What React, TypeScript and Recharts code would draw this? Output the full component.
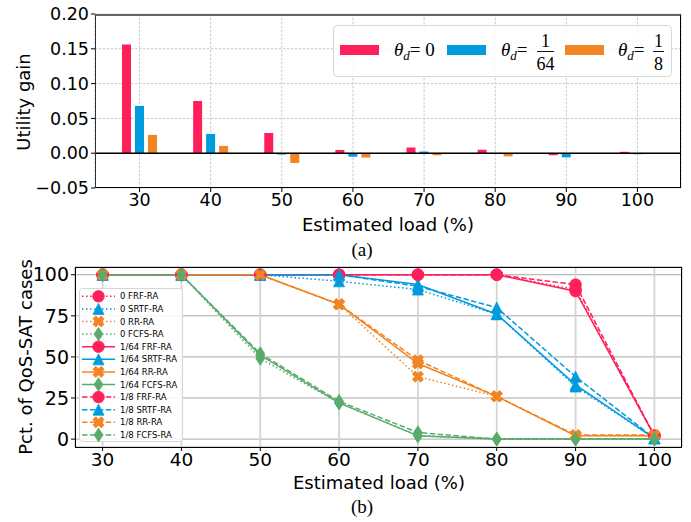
import React from 'react';
import { BarChart, Bar, XAxis, YAxis, CartesianGrid, ReferenceLine, LineChart, Line } from 'recharts';

// ---------- data ----------
const loads = [30, 40, 50, 60, 70, 80, 90, 100];
const gainTickValues = [-0.05, 0, 0.05, 0.1, 0.15, 0.2];
const pctTickValues = [0, 25, 50, 75, 100];

const gainTheta0 = [0.156, 0.075, 0.029, 0.0047, 0.0082, 0.005, -0.003, 0.002];
const gainTheta64 = [0.068, 0.0277, -0.002, -0.005, 0.0024, 0.0, -0.006, -0.0015];
const gainTheta8 = [0.0263, 0.0105, -0.014, -0.0063, -0.003, -0.0046, 0.0, 0.0];

const frf0 = [100, 100, 100, 100, 100, 100, 91, 2];
const srtf0 = [100, 100, 100, 96, 91, 76, 32, 0.5];
const rr0 = [100, 100, 100, 82, 38, 26, 2, 2];
const fcfs0 = [100, 100, 49, 22, 2, 0, 0, 0];
const frf64 = [100, 100, 100, 100, 100, 100, 90, 2];
const srtf64 = [100, 100, 100, 100, 94, 76, 33, 0.5];
const rr64 = [100, 100, 100, 82, 46, 26, 2, 2];
const fcfs64 = [100, 100, 51, 22, 2, 0, 0, 0];
const frf8 = [100, 100, 100, 100, 100, 100, 94, 2];
const srtf8 = [100, 100, 100, 100, 93, 80, 38, 0.5];
const rr8 = [100, 100, 100, 82, 48, 26, 2.5, 2.5];
const fcfs8 = [100, 100, 52, 23, 4, 0, 0, 0];

const PINK = '#FF1F5B';
const BLUE = '#009ADE';
const ORANGE = '#F28522';
const GREEN = '#58AB6A';

const barData = loads.map((l, i) => ({
  load: String(l),
  g0: gainTheta0[i],
  g64: gainTheta64[i],
  g8: gainTheta8[i],
}));

const lineData = loads.map((l, i) => ({
  load: l,
  frf0: frf0[i], srtf0: srtf0[i], rr0: rr0[i], fcfs0: fcfs0[i],
  frf64: frf64[i], srtf64: srtf64[i], rr64: rr64[i], fcfs64: fcfs64[i],
  frf8: frf8[i], srtf8: srtf8[i], rr8: rr8[i], fcfs8: fcfs8[i],
}));

type Shape = 'circle' | 'tri' | 'x' | 'diamond';

const DOTTED = '1.5 2.5';
const DASHED = '5.5 2.4';

const lineSeries: { key: string; label: string; color: string; shape: Shape; dash?: string }[] = [
  { key: 'frf0', label: '0 FRF-RA', color: PINK, shape: 'circle', dash: DOTTED },
  { key: 'srtf0', label: '0 SRTF-RA', color: BLUE, shape: 'tri', dash: DOTTED },
  { key: 'rr0', label: '0 RR-RA', color: ORANGE, shape: 'x', dash: DOTTED },
  { key: 'fcfs0', label: '0 FCFS-RA', color: GREEN, shape: 'diamond', dash: DOTTED },
  { key: 'frf64', label: '1/64 FRF-RA', color: PINK, shape: 'circle' },
  { key: 'srtf64', label: '1/64 SRTF-RA', color: BLUE, shape: 'tri' },
  { key: 'rr64', label: '1/64 RR-RA', color: ORANGE, shape: 'x' },
  { key: 'fcfs64', label: '1/64 FCFS-RA', color: GREEN, shape: 'diamond' },
  { key: 'frf8', label: '1/8 FRF-RA', color: PINK, shape: 'circle', dash: DASHED },
  { key: 'srtf8', label: '1/8 SRTF-RA', color: BLUE, shape: 'tri', dash: DASHED },
  { key: 'rr8', label: '1/8 RR-RA', color: ORANGE, shape: 'x', dash: DASHED },
  { key: 'fcfs8', label: '1/8 FCFS-RA', color: GREEN, shape: 'diamond', dash: DASHED },
];

// ---------- markers ----------
function Marker({ shape, color, cx, cy }: { shape: Shape; color: string; cx: number; cy: number }) {
  if (shape === 'circle') return <circle cx={cx} cy={cy} r={5.8} fill={color} stroke={color} strokeWidth={0.8} />;
  if (shape === 'tri') {
    const s = 5.5;
    return <polygon points={`${cx},${cy - s} ${cx - s},${cy + s} ${cx + s},${cy + s}`} fill={color} stroke={color} strokeWidth={0.8} />;
  }
  if (shape === 'diamond') {
    return <polygon points={`${cx},${cy - 6.8} ${cx + 4.4},${cy} ${cx},${cy + 6.8} ${cx - 4.4},${cy}`} fill={color} stroke={color} strokeWidth={0.8} />;
  }
  // filled X
  const L = 5.6; const w = 2.9;
  const pts: [number, number][] = [
    [0, -w], [L - w, -L], [L, -L + w], [w, 0], [L, L - w], [L - w, L],
    [0, w], [-L + w, L], [-L, L - w], [-w, 0], [-L, -L + w], [-L + w, -L],
  ];
  return <polygon points={pts.map(([x, y]) => `${cx + x},${cy + y}`).join(' ')} fill={color} stroke={color} strokeWidth={0.8} strokeLinejoin="round" />;
}

const makeDot = (shape: Shape, color: string) => (p: any) => {
  const { cx, cy, index } = p;
  if (cx == null || cy == null) return <g key={`e${index}`} />;
  return <Marker key={`m${index}`} shape={shape} color={color} cx={cx} cy={cy} />;
};

const SANS = 'DejaVu Sans';
const SERIF = 'Liberation Serif';

const fmtGain = (v: number) => (v < 0 ? '\u2212' + Math.abs(v).toFixed(2) : v.toFixed(2));

export default function App() {
  return (
    <div style={{ position: 'absolute', left: 0, top: 0, width: 691, height: 522, background: '#fff', overflow: 'hidden' }}>
      {/* top chart */}
      <div style={{ position: 'absolute', left: 0, top: 0 }}>
        <BarChart width={691} height={260} data={barData} margin={{ top: 14, right: 10, bottom: 42, left: 0 }} barSize={9} barGap={4}>
          <CartesianGrid stroke="#c8c8c8" strokeDasharray="2.5 1.5" />
          <XAxis dataKey="load" padding={{ left: 9, right: 8 }} height={30} axisLine={false}
            tick={{ fontFamily: SANS, fontSize: 17.5, fill: '#000' }} tickSize={4} tickLine={{ stroke: '#000' }} />
          <YAxis domain={[-0.05, 0.2]} ticks={gainTickValues} width={95} axisLine={false} tickFormatter={fmtGain}
            tick={{ fontFamily: SANS, fontSize: 17.5, fill: '#000' }} tickSize={4} tickLine={{ stroke: '#000' }} />
          <ReferenceLine y={0} stroke="#000" strokeWidth={1.5} />
          <Bar dataKey="g0" fill={PINK} isAnimationActive={false} />
          <Bar dataKey="g64" fill={BLUE} isAnimationActive={false} />
          <Bar dataKey="g8" fill={ORANGE} isAnimationActive={false} />
        </BarChart>
      </div>
      {/* frame of top chart */}
      <div style={{ position: 'absolute', left: 95, top: 14, width: 586, height: 174, boxSizing: 'border-box',
        borderTop: '2px solid #666', borderRight: '1px solid #000', borderLeft: '1px solid #333', borderBottom: '1px solid #000', pointerEvents: 'none' }} />

      {/* bottom chart */}
      <div style={{ position: 'absolute', left: 0, top: 252 }}>
        <LineChart width={691} height={270} data={lineData} margin={{ top: 15, right: 9, bottom: 45, left: 0 }}>
          <CartesianGrid vertical={false} stroke="#a8a8a8" strokeWidth={1} />
          <CartesianGrid horizontal={false} stroke="#d4d4d4" strokeWidth={1.8} />
          <XAxis dataKey="load" type="number" domain={[26.5, 103.5]} ticks={loads} allowDataOverflow height={30} axisLine={false}
            tick={{ fontFamily: SANS, fontSize: 18.5, fill: '#000' }} tickSize={4} tickLine={{ stroke: '#000' }} />
          <YAxis domain={[-4.8, 104.7]} ticks={pctTickValues} allowDataOverflow width={75} axisLine={false}
            tick={{ fontFamily: SANS, fontSize: 19, fill: '#000' }} tickSize={4} tickLine={{ stroke: '#000' }} />
          {lineSeries.map((s) => (
            <Line key={s.key} type="linear" dataKey={s.key} stroke={s.color} strokeWidth={1.5}
              strokeDasharray={s.dash} dot={makeDot(s.shape, s.color)} activeDot={false} isAnimationActive={false} />
          ))}
        </LineChart>
      </div>
      <div style={{ position: 'absolute', left: 75, top: 267, width: 607, height: 180.5, boxSizing: 'border-box',
        border: '1.2px solid #000', pointerEvents: 'none' }} />

      {/* overlay texts and legends */}
      <svg width={691} height={522} style={{ position: 'absolute', left: 0, top: 0, pointerEvents: 'none' }}>
        {/* axis titles */}
        <text x={23} y={102} transform="rotate(-90 23 102)" textAnchor="middle" dominantBaseline="central" fontFamily={SANS} fontSize={18}>Utility gain</text>
        <text x={388} y={224} textAnchor="middle" dominantBaseline="central" fontFamily={SANS} fontSize={18}>Estimated load (%)</text>
        <text x={362} y={249} textAnchor="middle" dominantBaseline="central" fontFamily={SERIF} fontSize={19}>(a)</text>
        <text x={25} y={357} transform="rotate(-90 25 357)" textAnchor="middle" dominantBaseline="central" fontFamily={SANS} fontSize={18}>Pct.  of QoS-SAT cases</text>
        <text x={379} y={482} textAnchor="middle" dominantBaseline="central" fontFamily={SANS} fontSize={18}>Estimated load (%)</text>
        <text x={362} y={506} textAnchor="middle" dominantBaseline="central" fontFamily={SERIF} fontSize={19}>(b)</text>

        {/* top legend */}
        <rect x={333.5} y={25.5} width={338} height={51} rx={4} fill="#fff" fillOpacity={0.85} stroke="#d6d6d6" />
        <rect x={340} y={45} width={39} height={10} fill={PINK} />
        <text x={394} y={56} fontFamily={SERIF} fontSize={19}>
          <tspan fontStyle="italic">θ</tspan><tspan fontStyle="italic" fontSize={13} dy={4}>d</tspan><tspan dy={-4}>= 0</tspan>
        </text>
        <rect x={447} y={45} width={39} height={10} fill={BLUE} />
        <text x={501} y={56} fontFamily={SERIF} fontSize={19}>
          <tspan fontStyle="italic">θ</tspan><tspan fontStyle="italic" fontSize={13} dy={4}>d</tspan><tspan dy={-4}>=</tspan>
        </text>
        <text x={545.5} y={47} textAnchor="middle" fontFamily={SERIF} fontSize={18}>1</text>
        <line x1={537} x2={554} y1={51.5} y2={51.5} stroke="#000" strokeWidth={0.9} />
        <text x={545.5} y={70} textAnchor="middle" fontFamily={SERIF} fontSize={18}>64</text>
        <rect x={565} y={45} width={39} height={10} fill={ORANGE} />
        <text x={618} y={56} fontFamily={SERIF} fontSize={19}>
          <tspan fontStyle="italic">θ</tspan><tspan fontStyle="italic" fontSize={13} dy={4}>d</tspan><tspan dy={-4}>=</tspan>
        </text>
        <text x={658.5} y={47} textAnchor="middle" fontFamily={SERIF} fontSize={18}>1</text>
        <line x1={653} x2={664} y1={51.5} y2={51.5} stroke="#000" strokeWidth={0.9} />
        <text x={658.5} y={70} textAnchor="middle" fontFamily={SERIF} fontSize={18}>8</text>

        {/* bottom legend */}
        <rect x={79.5} y={288.5} width={103} height={153} rx={3} fill="#fff" fillOpacity={0.85} stroke="#d6d6d6" />
        {lineSeries.map((s, i) => {
          const y = 296.3 + 12.6 * i;
          return (
            <g key={s.key}>
              <line x1={82} x2={115} y1={y} y2={y} stroke={s.color} strokeWidth={1.5} strokeDasharray={s.dash} />
              <Marker shape={s.shape} color={s.color} cx={98.5} cy={y} />
              <text x={120} y={y + 3} fontFamily={SANS} fontSize={8.5} fill="#000">{s.label}</text>
            </g>
          );
        })}
      </svg>
    </div>
  );
}
